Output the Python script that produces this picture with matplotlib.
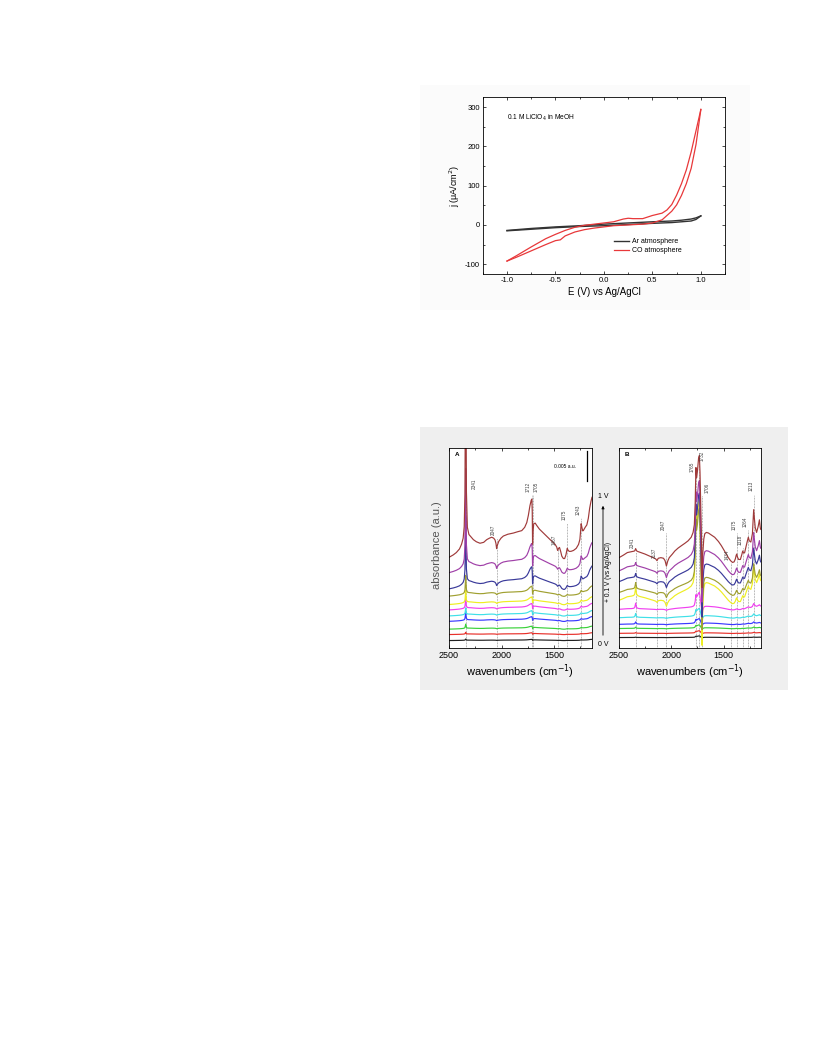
# -*- coding: utf-8 -*-
import numpy as np
import matplotlib
matplotlib.use('Agg')
import matplotlib.pyplot as plt
from matplotlib.patches import Rectangle
from matplotlib.ticker import MultipleLocator

plt.rcParams['font.family'] = ['Liberation Sans', 'DejaVu Sans']
plt.rcParams['axes.unicode_minus'] = False

# --- cyclic voltammetry (top chart) ---
E_co_upper = [-1.0, -0.9, -0.75, -0.6, -0.5, -0.4, -0.3, -0.2, -0.1, 0.0, 0.1, 0.2, 0.25,
              0.3, 0.4, 0.45, 0.5, 0.6, 0.65, 0.7, 0.75, 0.8, 0.85, 0.9, 0.95, 1.0]
j_co_upper = [-92, -78, -56, -35, -24, -14, -6, -1, 2, 5, 8, 15, 17,
              16, 16, 20, 24, 30, 38, 52, 76, 105, 140, 186, 240, 294]
E_co_lower = [-1.0, -0.9, -0.75, -0.6, -0.5, -0.45, -0.4, -0.3, -0.2, -0.1, 0.0, 0.1,
              0.25, 0.4, 0.5, 0.6, 0.7, 0.75, 0.8, 0.85, 0.9, 0.95, 1.0]
j_co_lower = [-92, -82, -66, -50, -40, -38, -28, -18, -12, -8, -5, -2,
              0, 2, 5, 13, 35, 51, 75, 105, 144, 205, 294]
E_ar = [-1.0, -0.75, -0.5, -0.25, 0.0, 0.25, 0.5, 0.7, 0.8, 0.9, 0.95, 1.0]
j_ar_upper = [-14, -9, -5, -2, 2, 5, 8, 10, 12, 15, 18, 23]
j_ar_lower = [-15, -11, -7, -4, -2, 1, 4, 6, 8, 10, 14, 23]

# --- IR spectra, panel A (knots, mAU-like units) ---
wn_a = [2500, 2460, 2430, 2400, 2380, 2365, 2355, 2348, 2344, 2341,
        2338, 2334, 2325, 2310, 2290, 2268, 2240, 2205, 2170, 2141,
        2115, 2094, 2075, 2062, 2053, 2047, 2040, 2027, 2005, 1983,
        1940, 1887, 1850, 1808, 1780, 1760, 1745, 1730, 1718, 1712,
        1708, 1705, 1700, 1694, 1680, 1665, 1640, 1602, 1570, 1538,
        1510, 1490, 1475, 1467, 1458, 1449, 1438, 1427, 1412, 1400,
        1388, 1380, 1375, 1368, 1357, 1340, 1316, 1290, 1268, 1255,
        1248, 1243, 1236, 1228, 1221, 1205, 1189, 1175, 1162, 1150,
        1140]
broad_a = [0, 0.4, 0.8, 1.2, 1.6, 2.0, 2.3, 2.5, 2.6, 2.7,
           2.8, 2.9, 3.0, 3.2, 3.2, 2.95, 2.6, 2.35, 2.5, 2.95,
           3.2, 3.35, 3.2, 2.9, 2.3, 1.45, 2.0, 2.65, 3.2, 3.55,
           3.85, 4.05, 4.25, 4.45, 5.0, 5.8, 7.0, 8.6, 9.5, 9.7,
           7.5, 2.2, 4.5, 5.6, 5.7, 5.3, 4.7, 4.05, 3.5, 2.95,
           2.5, 2.15, 1.7, 1.15, 1.5, 1.65, 1.0, 0.2, -0.2, -0.2,
           0.4, 1.1, 1.5, 1.2, 1.0, 1.0, 1.15, 1.5, 2.15, 3.0,
           4.5, 5.6, 5.0, 4.4, 4.5, 5.0, 5.4, 6.5, 8.2, 9.3,
           10.0]
co2_a = [0, 0, 0, 0.005, 0.015, 0.03, 0.07, 0.2, 0.6, 1.0,
         0.6, 0.2, 0.05, 0.015, 0.005] + [0.0] * 66

# --- IR spectra, panel B ---
wn_b = [2500, 2460, 2420, 2380, 2360, 2350, 2345, 2341, 2337, 2332,
        2320, 2300, 2252, 2200, 2173, 2150, 2137, 2125, 2100, 2075,
        2060, 2047, 2035, 2020, 1990, 1967, 1935, 1903, 1870, 1840,
        1810, 1792, 1780, 1772, 1765, 1758, 1750, 1740, 1732, 1726,
        1720, 1712, 1706, 1700, 1690, 1680, 1665, 1645, 1620, 1586,
        1550, 1522, 1495, 1475, 1455, 1434, 1415, 1400, 1388, 1380,
        1375, 1368, 1357, 1340, 1325, 1318, 1310, 1300, 1284, 1270,
        1264, 1255, 1240, 1225, 1213, 1206, 1198, 1185, 1170, 1158,
        1150, 1145]
broad_b = [0, 0.4, 0.85, 1.0, 1.05, 1.05, 1.1, 1.1, 1.1, 1.05,
           1.0, 0.9, 0.6, 0.2, 0.0, -0.2, -0.5, -0.1, 0.0, -0.1,
           -0.5, -1.4, -0.6, 0.0, 0.6, 1.1, 1.6, 2.0, 2.4, 2.8,
           3.4, 4.2, 5.0, 6.0, 7.0, 7.3, 7.5, 7.5, 7.5, 7.2,
           6.5, 5.0, 3.0, 3.5, 3.6, 4.0, 4.2, 4.1, 3.8, 3.4,
           2.7, 2.0, 1.2, 0.6, 0.0, -0.5, -0.8, -0.7, -0.2, 0.4,
           0.6, 0.1, -0.3, -0.3, 0.6, 1.1, 0.8, 0.8, 2.0, 3.0,
           3.4, 2.8, 2.6, 4.0, 8.0, 6.5, 5.0, 4.2, 5.2, 6.3,
           5.0, 4.7]
band_b = [0.0] * 32 + [0.5, 3, 8, 6, 7, 9, 9.5, 7, 3, -2, -8, -3, -0.5] + [0.0] * 37
co2_b = [0.0] * 4 + [0.05, 0.2, 0.6, 1.0, 0.6, 0.2, 0.05] + [0.0] * 71

# per-potential spectra, 0 V (bottom) to 1 V (top)
spec_colors = ['#202020', '#e8302a', '#3ad13a', '#3a3aff', '#3fe0e8', '#f040f0',
               '#eeee22', '#a0a030', '#3a3a9a', '#a040a8', '#a03a3a']
off_a = [1.2, 2.2, 3.1, 4.4, 5.3, 6.3, 7.2, 8.6, 9.8, 12.5, 15.05]
amp_broad_a = [0.02, 0.03, 0.05, 0.08, 0.09, 0.11, 0.13, 0.17, 0.38, 0.5, 1.0]
amp_co2_a = [0.2, 0.3, 0.7, 1.3, 1.1, 1.6, 2.0, 3.0, 11, 16, 40]
off_b = [1.7, 2.4, 3.2, 3.9, 5.0, 6.4, 7.9, 9.2, 11.0, 12.8, 15.0]
amp_broad_b = [0.01, 0.02, 0.03, 0.05, 0.08, 0.12, 0.7, 0.6, 0.7, 0.8, 1.0]
amp_band_b = [0.02, 0.03, 0.04, 0.06, 0.1, 0.2, 1.2, 1.0, 1.0, 0.95, 1.0]
amp_co2_b = [0.05, 0.1, 0.2, 0.35, 0.6, 0.9, 1.4, 1.0, 0.6, 0.5, 0.4]

# band markers: position, label x, label y
peaks_a = [2341, 2047, 1712, 1705, 1467, 1375, 1243]
peak_lx_a = [2262, 2080, 1745, 1672, 1495, 1403, 1271]
peak_ly_a = [27.3, 19.7, 26.8, 26.8, 18.0, 22.2, 23.0]
peaks_b = [2341, 2137, 2047, 1765, 1732, 1706, 1434, 1375, 1318, 1264, 1213]
peak_lx_b = [2369, 2165, 2075, 1805, 1708, 1660, 1462, 1403, 1346, 1292, 1241]
peak_ly_b = [17.4, 15.8, 20.5, 30.1, 32.0, 26.7, 15.5, 20.5, 18.0, 21.0, 26.9]


def draw_spectra(ax, wn, comps, amps, offsets, peaks, lx, ly, tag):
    wn = np.asarray(wn)
    comps = [np.asarray(c, dtype=float) for c in comps]
    ax.vlines(peaks, 0, np.array(ly) - 1.4, colors='0.45', linestyles=(0, (1, 1.2)),
              lw=0.5, zorder=1)
    for p, x, y in zip(peaks, lx, ly):
        ax.text(x, y, str(p), rotation=90, ha='center', va='center',
                fontsize=3.3, color='0.25')
    for i, col in enumerate(spec_colors):
        y = offsets[i] + sum(a[i] * c for a, c in zip(amps, comps))
        ax.plot(wn, y, color=col, lw=0.85, zorder=2)
    ax.set_xlim(2500, 1143)
    ax.set_ylim(0, 33.3)
    ax.set_yticks([])
    ax.xaxis.set_major_locator(MultipleLocator(500))
    ax.xaxis.set_minor_locator(MultipleLocator(250))
    ax.tick_params(axis='x', which='both', direction='in', top=True, labelsize=6.5,
                   pad=2, width=0.5)
    ax.tick_params(axis='x', which='major', length=2.5)
    ax.tick_params(axis='x', which='minor', length=1.5)
    for s in ax.spines.values():
        s.set_linewidth(0.6)
    ax.set_xlabel('wavenumbers (cm$^{-1}$)', fontsize=8, labelpad=2)
    ax.text(0.04, 0.965, tag, transform=ax.transAxes, fontsize=4.5,
            fontweight='bold', ha='left', va='center')


fig = plt.figure(figsize=(8.16, 10.56), dpi=100)
fig.patches.append(Rectangle((420 / 816, 1 - 310 / 1056), 330 / 816, 225 / 1056,
                             transform=fig.transFigure, facecolor='#fbfbfb',
                             edgecolor='none', zorder=-5))
fig.patches.append(Rectangle((420 / 816, 1 - 690 / 1056), 368 / 816, 263 / 1056,
                             transform=fig.transFigure, facecolor='#efefef',
                             edgecolor='none', zorder=-5))

# ---- CV plot ----
ax = fig.add_axes([0.5916, 0.7405, 0.297, 0.1674])
ax.plot(E_ar, j_ar_upper, color='#333333', lw=1.0)
ax.plot(E_ar, j_ar_lower, color='#333333', lw=1.0, label='Ar atmosphere')
ax.plot(E_co_upper, j_co_upper, color='#e8383a', lw=0.9)
ax.plot(E_co_lower, j_co_lower, color='#e8383a', lw=0.9, label='CO atmosphere')
ax.set_xlim(-1.25, 1.25)
ax.set_ylim(-125, 325)
ax.xaxis.set_major_locator(MultipleLocator(0.5))
ax.xaxis.set_minor_locator(MultipleLocator(0.25))
ax.yaxis.set_major_locator(MultipleLocator(100))
ax.yaxis.set_minor_locator(MultipleLocator(50))
ax.tick_params(which='both', direction='in', top=True, right=True, labelsize=5.5,
               width=0.5, pad=2)
ax.tick_params(which='major', length=2.5)
ax.tick_params(which='minor', length=1.5)
for s in ax.spines.values():
    s.set_linewidth(0.6)
ax.set_xlabel('E (V) vs Ag/AgCl', fontsize=7, labelpad=2)
ax.set_ylabel('j (μA/cm$^2$)', fontsize=6.5, labelpad=2)
ax.text(0.10, 0.883, '0.1 M LiClO$_4$ in MeOH', transform=ax.transAxes,
        fontsize=4.8, ha='left', va='center')
ax.legend(loc='upper left', bbox_to_anchor=(0.52, 0.23), frameon=False, fontsize=5,
          handlelength=2.2, handletextpad=0.4, labelspacing=0.3, borderpad=0.2)

# ---- IR spectra ----
axA = fig.add_axes([0.5502, 0.3866, 0.1749, 0.1894])
draw_spectra(axA, wn_a, [broad_a, co2_a], [amp_broad_a, amp_co2_a], off_a,
             peaks_a, peak_lx_a, peak_ly_a, 'A')
axA.plot([1189, 1189], [27.7, 32.7], color='black', lw=0.9)
axA.text(1395, 30.2, '0.005 a.u.', fontsize=3.5, ha='center', va='center')

axB = fig.add_axes([0.7586, 0.3866, 0.174, 0.1894])
draw_spectra(axB, wn_b, [broad_b, band_b, co2_b], [amp_broad_b, amp_band_b, amp_co2_b],
             off_b, peaks_b, peak_lx_b, peak_ly_b, 'B')

fig.text(437 / 816, 1 - 545 / 1056, 'absorbance (a.u.)', rotation=90, fontsize=8,
         color='#555555', ha='center', va='center')
fig.text(603 / 816, 1 - 497 / 1056, '1 V', fontsize=5, ha='center', va='center')
fig.text(603 / 816, 1 - 644 / 1056, '0 V', fontsize=5, ha='center', va='center')
fig.text(609 / 816, 1 - 572 / 1056, '+ 0.1 V (vs Ag/AgCl)', rotation=90, fontsize=4.8,
         ha='center', va='center')
ax.annotate('', xy=(603 / 816, 1 - 503 / 1056), xytext=(603 / 816, 1 - 638 / 1056),
            xycoords='figure fraction', textcoords='figure fraction',
            arrowprops=dict(arrowstyle='-|>', lw=0.6, color='black',
                            mutation_scale=4))

fig.savefig('out.png', dpi=100)
